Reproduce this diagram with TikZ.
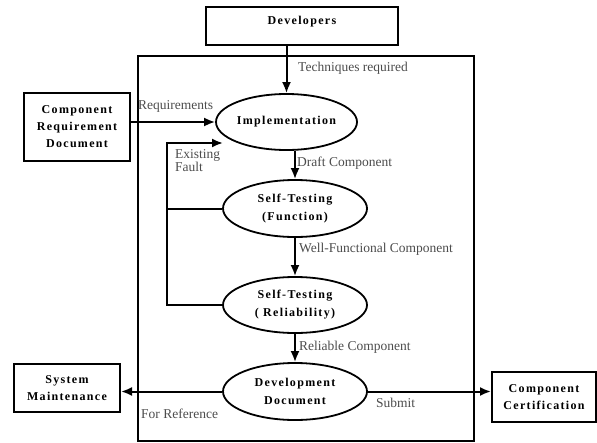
\documentclass[tikz,border=0pt]{standalone}
\usepackage{fontspec}
\setmainfont{Liberation Serif}
\newfontfamily\boxfont[LetterSpace=11]{Liberation Serif}
\usetikzlibrary{shapes.geometric,arrows.meta}

\tikzset{
	blk/.style={draw, line width=2pt, align=center, inner sep=0pt,
		font=\boxfont\bfseries\fontsize{12}{17}\selectfont},
	proc/.style={blk, ellipse, line width=1.8pt, minimum width=144pt, minimum height=57pt,
		font=\boxfont\bfseries\fontsize{12}{18}\selectfont},
	lbl/.style={anchor=west, inner sep=0pt, align=left, text=black!70,
		font=\fontsize{13.5}{13}\selectfont},
	flow/.style={line width=2pt, ->}
}

\begin{document}
\begin{tikzpicture}[x=1pt,y=-1pt,>={Latex[length=11pt,width=9pt]}]
	\useasboundingbox (0,0) rectangle (597,442);
	% the development frame
	\draw[line width=2pt] (138,56) rectangle (474,441);

	% outer boxes
	\node[blk, minimum width=192pt, text height=17pt, text depth=21pt] (dev) at (302,26) {Developers};
	\node[blk, minimum width=106pt, minimum height=68pt] (crd) at (77,127) {Component\\Requirement\\Document};
	\node[blk, minimum width=106pt, minimum height=48pt] (sysm) at (67,388) {System\\Maintenance};
	\node[blk, minimum width=104pt, minimum height=50pt] (cert) at (544,397) {Component\\Certification};

	% processes
	\node[proc, minimum width=141pt, minimum height=56pt] (impl) at (286.5,122) {Implementation};
	\node[proc] (stf) at (295,208.5) {Self-Testing\\(Function)};
	\node[proc, minimum height=56pt] (str) at (295,305) {Self-Testing\\( Reliability)};
	\node[proc] (devdoc) at (295,391.5) {Development\\Document};

	% flows
	\draw[flow] (impl.north |- dev.south) -- (impl.north);
	\draw[flow] (crd.east |- impl.west) -- (impl.west);
	\draw[flow] (impl.south -| stf.north) -- (stf.north);
	\draw[flow] (stf.south) -- (str.north);
	\draw[flow] (str.south) -- (devdoc.north);
	\draw[flow] (devdoc.west) -- (sysm.east |- devdoc.west);
	\draw[flow] (devdoc.east) -- (cert.west |- devdoc.east);

	% fault loop
	\coordinate (fbtop) at (167,143);
	\coordinate (fbend) at (223,143);
	\draw[line width=2pt] (stf.west) -- (stf.west -| fbtop);
	\draw[flow] (str.west) -| (fbtop) -- (fbend);

	% labels
	\node[lbl] (ltech) at (298,68) {Techniques required};
	\node[lbl] (lreq) at (138,106) {Requirements};
	\node[lbl] (lfault) at (175,160.5) {Existing\\Fault};
	\node[lbl] (ldraft) at (297,163) {Draft Component};
	\node[lbl] (lwell) at (299,249) {Well-Functional Component};
	\node[lbl] (lrel) at (299,347) {Reliable Component};
	\node[lbl] (lref) at (141,414) {For Reference};
	\node[lbl] (lsub) at (376,403) {Submit};
\end{tikzpicture}
\end{document}
